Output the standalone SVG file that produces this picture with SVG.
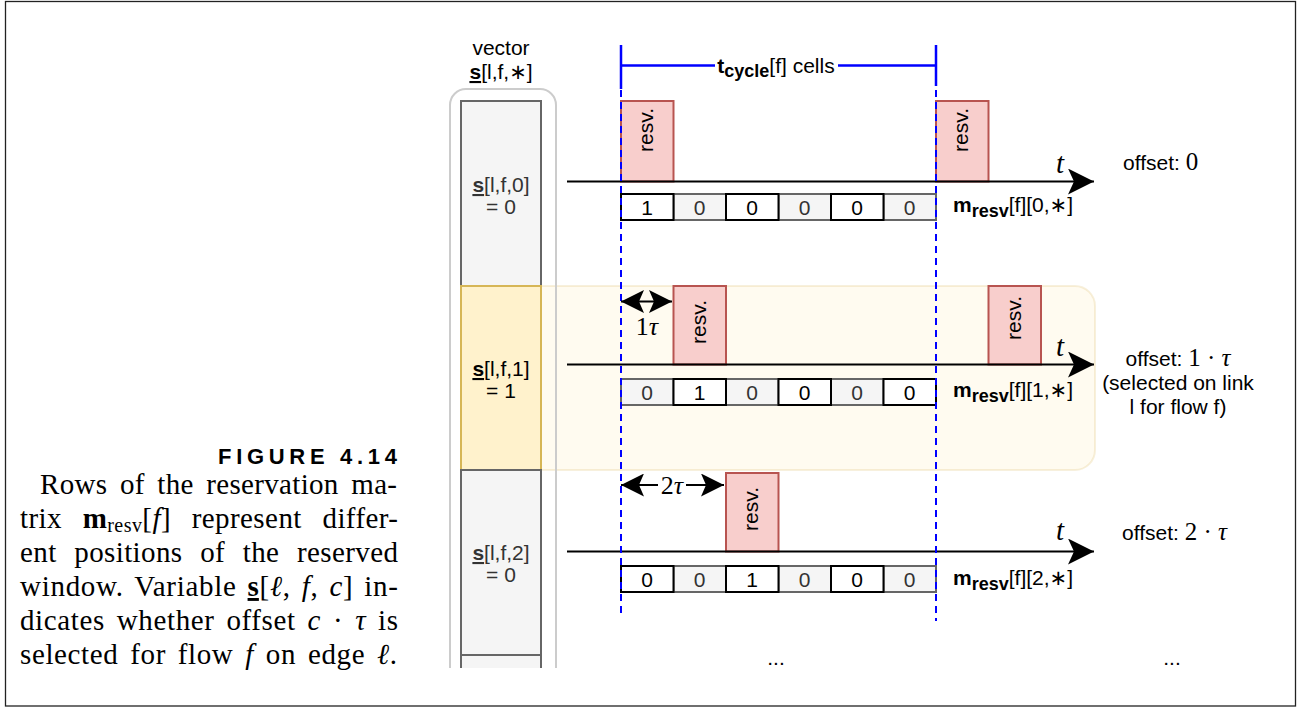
<svg xmlns="http://www.w3.org/2000/svg" width="1301" height="708" viewBox="0 0 1301 708">
<style>
.sans{font-family:"Liberation Sans",Arial,"DejaVu Sans",sans-serif;font-size:21px;fill:#000}
.mid{text-anchor:middle}
.math{font-family:"Liberation Serif","Times New Roman","DejaVu Serif",serif;fill:#000}
.it{font-style:italic}
.cap{font-family:"Liberation Serif","Times New Roman","DejaVu Serif",serif;font-size:29px;fill:#000}
.gcell{fill:#f5f5f5;stroke:#666;stroke-width:2}
.wcell{fill:#fff;stroke:#000;stroke-width:2}
.gtxt{fill:#333}
.resv{fill:#f8cecc;stroke:#b85450;stroke-width:2}
.axis{stroke:#000;stroke-width:2;fill:none}
.blue{stroke:#0000ff;stroke-width:2.5;fill:none}
.dash{stroke:#0000ff;stroke-width:2;stroke-dasharray:7 5;fill:none}
.dim{stroke:#000;stroke-width:2;fill:none}
</style>
<defs>
<marker id="ah" markerUnits="userSpaceOnUse" markerWidth="26" markerHeight="26" viewBox="0 0 26 26" refX="26" refY="13" orient="auto">
<path d="M0,0 L26,13 L0,26 L6,13 Z" fill="#000"/>
</marker>
<marker id="dh" markerUnits="userSpaceOnUse" markerWidth="23" markerHeight="23" viewBox="0 0 23 23" refX="23" refY="11.5" orient="auto-start-reverse">
<path d="M0,0 L23,11.5 L0,23 L5,11.5 Z" fill="#000"/>
</marker>
<clipPath id="colclip"><rect x="0" y="0" width="1301" height="668"/></clipPath>
</defs>

<rect id="frame" x="5.5" y="1.5" width="1290" height="704.5" fill="none" stroke="#222" stroke-width="1.3"/>

<g id="caption">
<text class="sans" x="218" y="464" style="font-size:22px;font-weight:bold" textLength="179" lengthAdjust="spacing">FIGURE 4.14</text>
<text class="cap" x="40" y="494" word-spacing="5" textLength="357" lengthAdjust="spacing">Rows of the reservation ma-</text>
<text class="cap" x="20" y="528" word-spacing="13" textLength="378" lengthAdjust="spacing">trix <tspan font-weight="bold">m</tspan><tspan style="font-size:20px" dy="4">resv</tspan><tspan dy="-4">[</tspan><tspan class="it">f</tspan>] represent differ-</text>
<text class="cap" x="20" y="562" word-spacing="10" textLength="378" lengthAdjust="spacing">ent positions of the reserved</text>
<text class="cap" x="20" y="596" word-spacing="3" textLength="378" lengthAdjust="spacing">window. Variable <tspan font-weight="bold" text-decoration="underline">s</tspan>[<tspan class="it">ℓ</tspan>, <tspan class="it">f</tspan>, <tspan class="it">c</tspan>] in-</text>
<text class="cap" x="20" y="630" word-spacing="4" textLength="378" lengthAdjust="spacing">dicates whether offset <tspan class="it">c</tspan> · <tspan class="it">τ</tspan> is</text>
<text class="cap" x="20" y="664" word-spacing="4" textLength="377" lengthAdjust="spacing">selected for flow <tspan class="it">f</tspan> on edge <tspan class="it">ℓ</tspan>.</text>
</g>

<g id="highlight-band">
<rect x="461" y="286" width="634" height="184" rx="20" fill="#fff2cc" fill-opacity="0.3" stroke="#d6b656" stroke-opacity="0.2" stroke-width="2"/>
</g>

<g id="vector-label">
<text class="sans mid" x="501" y="55">vector</text>
<text class="sans mid" x="501" y="79"><tspan font-weight="bold" text-decoration="underline">s</tspan>[l,f,∗]</text>
</g>

<g id="vector-column" clip-path="url(#colclip)">
<rect x="450" y="89" width="106" height="700" rx="16" fill="none" stroke="#ccc" stroke-width="2"/>
</g>
<g id="s0" clip-path="url(#colclip)">
<rect class="gcell" x="461" y="101" width="80" height="185"/>
<text class="sans mid gtxt" x="501" y="192"><tspan font-weight="bold" text-decoration="underline">s</tspan>[l,f,0]</text>
<text class="sans mid gtxt" x="501" y="214">= 0</text>
</g>
<g id="s1">
<rect x="461" y="286" width="80" height="184" fill="#fff2cc" stroke="#d6b656" stroke-width="2"/>
<text class="sans mid" x="501" y="376"><tspan font-weight="bold" text-decoration="underline">s</tspan>[l,f,1]</text>
<text class="sans mid" x="501" y="398">= 1</text>
</g>
<g id="s2">
<rect class="gcell" x="461" y="470" width="80" height="185"/>
<text class="sans mid gtxt" x="501" y="560"><tspan font-weight="bold" text-decoration="underline">s</tspan>[l,f,2]</text>
<text class="sans mid gtxt" x="501" y="582">= 0</text>
</g>
<g id="s3" clip-path="url(#colclip)">
<rect class="gcell" x="461" y="655" width="80" height="60"/>
</g>

<g id="tcycle">
<rect x="715" y="55" width="123" height="27" fill="#fff"/>
<text class="sans mid" x="776" y="73"><tspan font-weight="bold">t</tspan><tspan font-weight="bold" style="font-size:18px" dy="4">cycle</tspan><tspan dy="-4">[f] cells</tspan></text>
</g>

<g id="resv-boxes">
<rect class="resv" x="621" y="101" width="52.5" height="80.5"/>
<text class="sans mid" transform="translate(647.2,130) rotate(-90)" y="6">resv.</text>
<rect class="resv" x="936" y="101" width="52.5" height="80.5"/>
<text class="sans mid" transform="translate(962.2,130) rotate(-90)" y="6">resv.</text>
<rect class="resv" x="673.5" y="286" width="52.5" height="78.5"/>
<text class="sans mid" transform="translate(699.7,322) rotate(-90)" y="6">resv.</text>
<rect class="resv" x="988.5" y="286" width="52.5" height="78.5"/>
<text class="sans mid" transform="translate(1014.7,318) rotate(-90)" y="6">resv.</text>
<rect class="resv" x="726" y="473" width="52.5" height="78.5"/>
<text class="sans mid" transform="translate(752.2,509) rotate(-90)" y="6">resv.</text>
</g>

<g id="row0-cells">
<rect class="gcell" x="673.5" y="194" width="52.5" height="26"/>
<rect class="gcell" x="778.5" y="194" width="52.5" height="26"/>
<rect class="gcell" x="883.5" y="194" width="52.5" height="26"/>
<rect class="wcell" x="621" y="194" width="52.5" height="26"/>
<rect class="wcell" x="726" y="194" width="52.5" height="26"/>
<rect class="wcell" x="831" y="194" width="52.5" height="26"/>
<text class="sans mid" x="647.2" y="214.5">1</text>
<text class="sans mid gtxt" x="699.7" y="214.5">0</text>
<text class="sans mid" x="752.2" y="214.5">0</text>
<text class="sans mid gtxt" x="804.7" y="214.5">0</text>
<text class="sans mid" x="857.2" y="214.5">0</text>
<text class="sans mid gtxt" x="909.7" y="214.5">0</text>
<text class="sans" x="953" y="212"><tspan font-weight="bold">m</tspan><tspan font-weight="bold" style="font-size:18px" dy="5">resv</tspan><tspan dy="-5">[f][0,∗]</tspan></text>
</g>

<g id="row1-cells">
<rect class="gcell" x="621" y="379" width="52.5" height="26"/>
<rect class="gcell" x="726" y="379" width="52.5" height="26"/>
<rect class="gcell" x="831" y="379" width="52.5" height="26"/>
<rect class="wcell" x="673.5" y="379" width="52.5" height="26"/>
<rect class="wcell" x="778.5" y="379" width="52.5" height="26"/>
<rect class="wcell" x="883.5" y="379" width="52.5" height="26"/>
<text class="sans mid gtxt" x="647.2" y="399.5">0</text>
<text class="sans mid" x="699.7" y="399.5">1</text>
<text class="sans mid gtxt" x="752.2" y="399.5">0</text>
<text class="sans mid" x="804.7" y="399.5">0</text>
<text class="sans mid gtxt" x="857.2" y="399.5">0</text>
<text class="sans mid" x="909.7" y="399.5">0</text>
<text class="sans" x="953" y="397"><tspan font-weight="bold">m</tspan><tspan font-weight="bold" style="font-size:18px" dy="5">resv</tspan><tspan dy="-5">[f][1,∗]</tspan></text>
</g>

<g id="row2-cells">
<rect class="gcell" x="673.5" y="566" width="52.5" height="26"/>
<rect class="gcell" x="778.5" y="566" width="52.5" height="26"/>
<rect class="gcell" x="883.5" y="566" width="52.5" height="26"/>
<rect class="wcell" x="621" y="566" width="52.5" height="26"/>
<rect class="wcell" x="726" y="566" width="52.5" height="26"/>
<rect class="wcell" x="831" y="566" width="52.5" height="26"/>
<text class="sans mid" x="647.2" y="586.5">0</text>
<text class="sans mid gtxt" x="699.7" y="586.5">0</text>
<text class="sans mid" x="752.2" y="586.5">1</text>
<text class="sans mid gtxt" x="804.7" y="586.5">0</text>
<text class="sans mid" x="857.2" y="586.5">0</text>
<text class="sans mid gtxt" x="909.7" y="586.5">0</text>
<text class="sans" x="953" y="585"><tspan font-weight="bold">m</tspan><tspan font-weight="bold" style="font-size:18px" dy="5">resv</tspan><tspan dy="-5">[f][2,∗]</tspan></text>
</g>

<g id="connectors">
<line class="axis" x1="567" y1="181.5" x2="1094" y2="181.5" marker-end="url(#ah)"/>
<line class="axis" x1="567" y1="364.5" x2="1094" y2="364.5" marker-end="url(#ah)"/>
<line class="axis" x1="567" y1="551.5" x2="1094" y2="551.5" marker-end="url(#ah)"/>
<line class="dash" x1="621" y1="90" x2="621" y2="613"/>
<line class="dash" x1="936" y1="90" x2="936" y2="621"/>
<line class="blue" x1="621" y1="45" x2="621" y2="89"/>
<line class="blue" x1="936" y1="45" x2="936" y2="86"/>
<line class="blue" x1="621" y1="65.5" x2="715" y2="65.5"/>
<line class="blue" x1="838" y1="65.5" x2="936" y2="65.5"/>
<line class="dim" x1="621" y1="301.5" x2="672" y2="301.5" marker-start="url(#dh)" marker-end="url(#dh)"/>
<line class="dim" x1="621" y1="485" x2="724" y2="485" marker-start="url(#dh)" marker-end="url(#dh)"/>
</g>

<g id="tau-labels">
<text class="math" x="647" y="335" text-anchor="middle" style="font-size:26px">1<tspan class="it">τ</tspan></text>
<rect x="658" y="473" width="28" height="24" fill="#fff"/>
<text class="math" x="672" y="494" text-anchor="middle" style="font-size:26px">2<tspan class="it">τ</tspan></text>
</g>

<g id="t-labels">
<text class="math it" x="1056" y="173" style="font-size:29px">t</text>
<text class="math it" x="1056" y="356" style="font-size:29px">t</text>
<text class="math it" x="1056" y="540" style="font-size:29px">t</text>
</g>

<g id="offset-labels">
<text class="sans" x="1123" y="170">offset: <tspan class="math" style="font-size:25px">0</tspan></text>
<text class="sans mid" x="1178" y="366">offset: <tspan class="math" style="font-size:25px">1 · <tspan class="it">τ</tspan></tspan></text>
<text class="sans mid" x="1178" y="390">(selected on link</text>
<text class="sans mid" x="1178" y="414">l for flow f)</text>
<text class="sans" x="1122" y="540">offset: <tspan class="math" style="font-size:25px">2 · <tspan class="it">τ</tspan></tspan></text>
</g>

<g id="ellipsis">
<text class="sans mid" x="776" y="665">...</text>
<text class="sans mid" x="1172" y="665">...</text>
</g>
</svg>
